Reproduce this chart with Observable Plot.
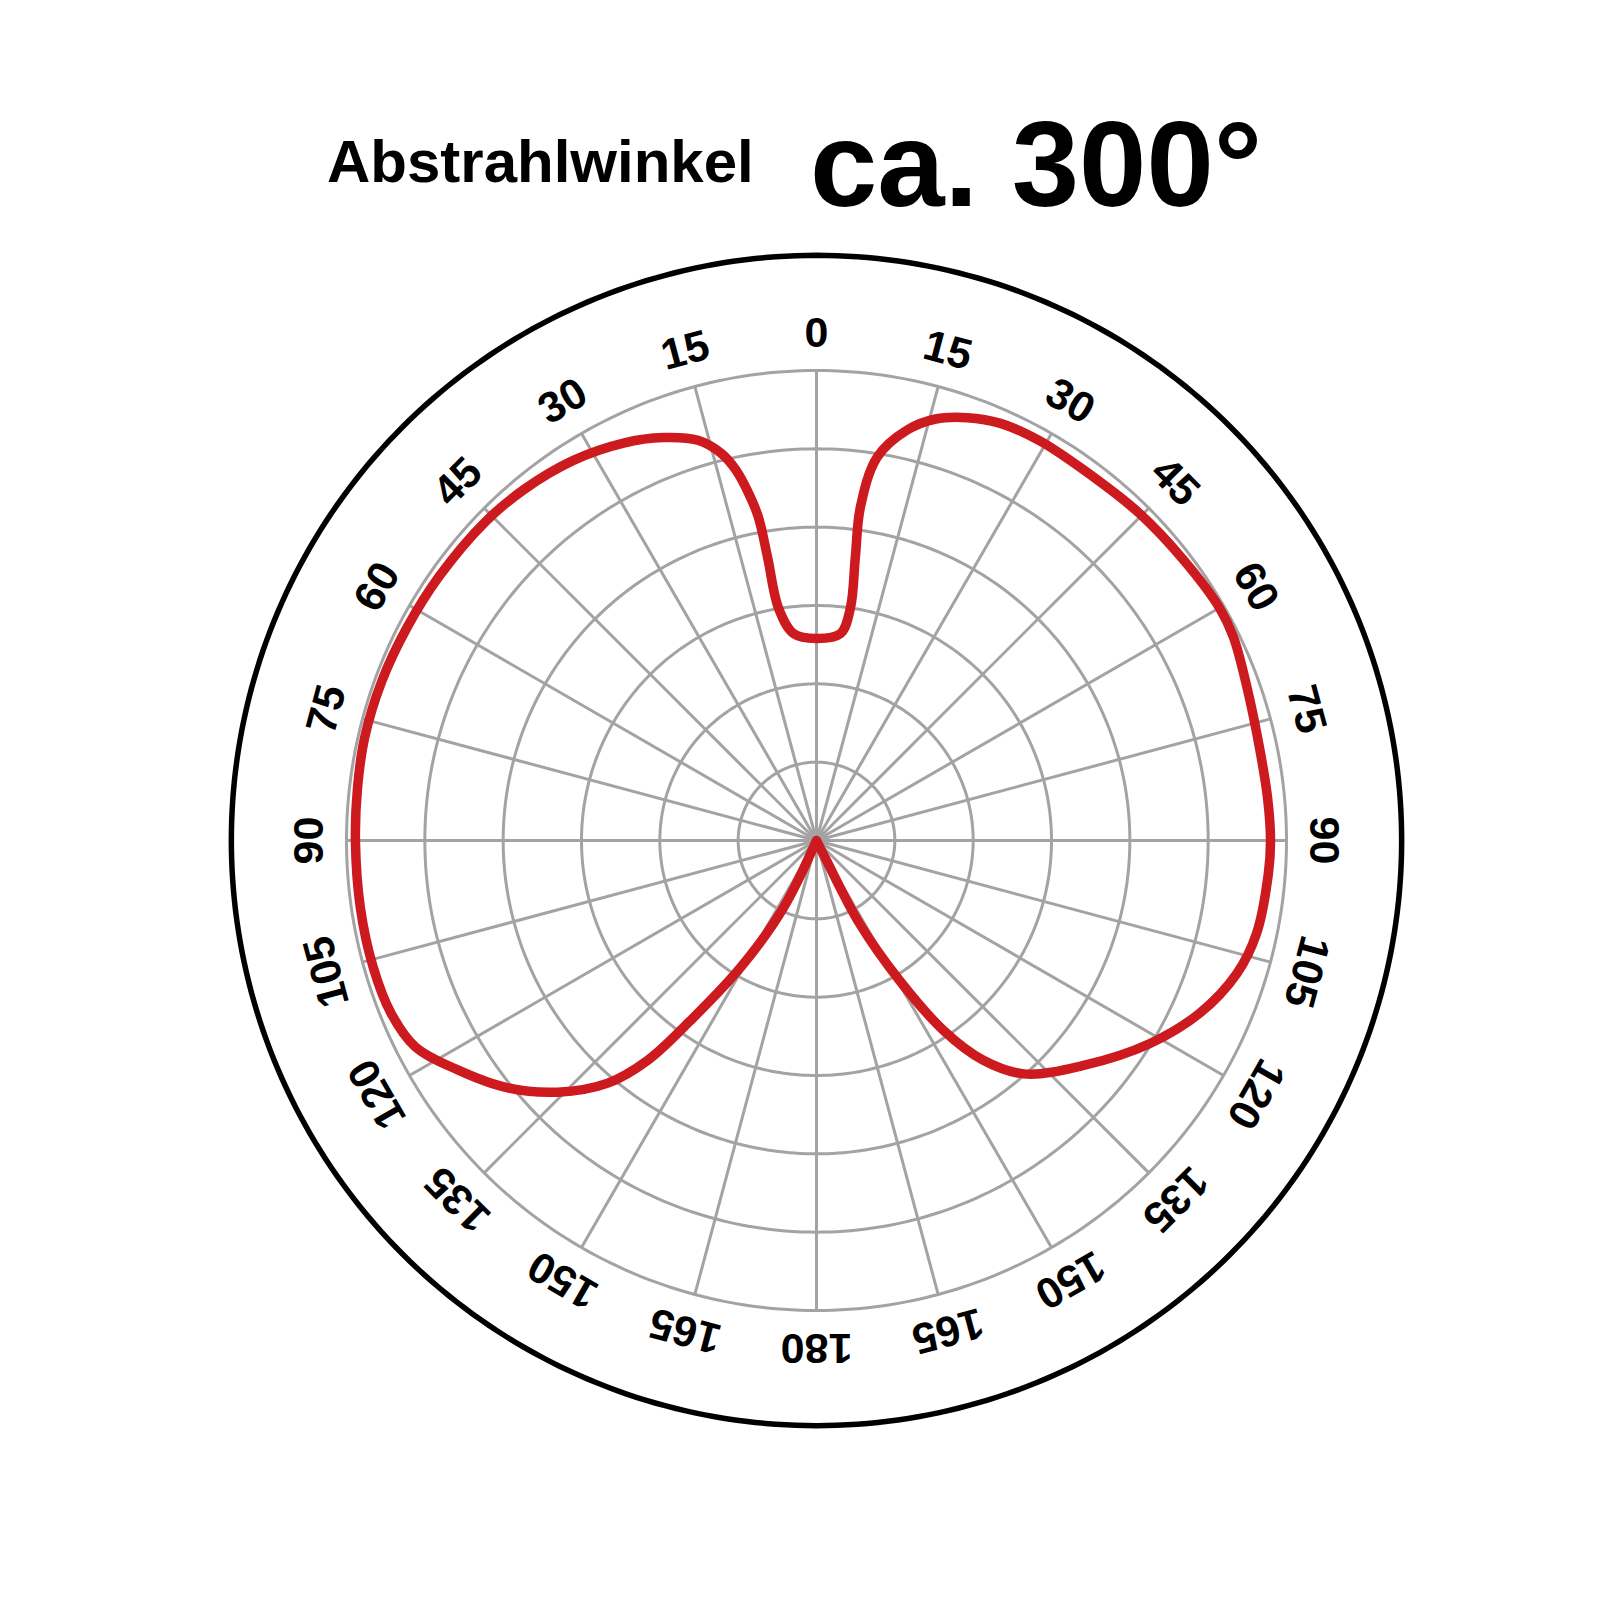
<!DOCTYPE html>
<html>
<head>
<meta charset="utf-8">
<script src="https://cdn.jsdelivr.net/npm/d3@7"></script>
<script src="https://cdn.jsdelivr.net/npm/@observablehq/plot@0.6"></script>
<style>
  html, body { margin: 0; padding: 0; background: #fff; }
  body { width: 1620px; font-family: "Liberation Sans", Arial, sans-serif; }
  #title { position: relative; width: 1620px; height: 220px; }
  #title span { position: absolute; font-weight: bold; line-height: 1; white-space: nowrap; color: #000; }
  #t1 { left: 327px; top: 132px; font-size: 60px; }
  #t2 { left: 810px; top: 104px; font-size: 121px; }
</style>
</head>
<body>
<div id="title"><span id="t1">Abstrahlwinkel</span><span id="t2">ca. 300°</span></div>
<div id="chart"></div>
<script>
// Radiation pattern: angle in degrees (clockwise from top, negative = left side), relative intensity (outer ring = 1)
const curveAngle = [
  -154, -153.8, -149.1, -145, -142.5, -139.3, -134.2, -128.6, -122.6, -117.2,
  -112.1, -106, -98.4, -90, -83.4, -77.2, -69.8, -62.5, -55, -46.1,
  -39.7, -32.6, -25.9, -20.8, -16.5, -13.8, -12.3, -11.2, -10.2, -9.8,
  -9.3, -6.3, 0, 6.6, 8.3, 7.8, 7.5, 9.0, 12.5, 15.8,
  19.6, 23.8, 29.2, 35.8, 44.7, 52.7, 60.0, 64.0, 70.5, 78.1,
  84.6, 90, 94.2, 101.9, 107.6, 114.3, 121.4, 130.1, 138.4, 142.8,
  146.2, 149.3, 152.6, 153.4, 154
];
const curveValue = [
  0, 0.160, 0.315, 0.468, 0.589, 0.681, 0.768, 0.843, 0.906, 0.960,
  0.977, 0.981, 0.981, 0.981, 0.983, 0.986, 0.985, 0.982, 0.980, 0.978,
  0.972, 0.960, 0.940, 0.917, 0.888, 0.848, 0.808, 0.760, 0.700, 0.611,
  0.502, 0.443, 0.430, 0.443, 0.500, 0.609, 0.715, 0.826, 0.895, 0.932,
  0.955, 0.970, 0.974, 0.972, 0.978, 0.983, 0.990, 0.987, 0.972, 0.963,
  0.964, 0.966, 0.964, 0.957, 0.938, 0.894, 0.830, 0.743, 0.664, 0.587,
  0.487, 0.347, 0.198, 0.047, 0
];

// Angle tick labels (every 15°, symmetric numbering)
const tickAngles = [0, 15, 30, 45, 60, 75, 90, 105, 120, 135, 150, 165, 180,
  195, 210, 225, 240, 255, 270, 285, 300, 315, 330, 345];
const tickLabels = ["0", "15", "30", "45", "60", "75", "90", "105", "120", "135", "150", "165", "180",
  "165", "150", "135", "120", "105", "90", "75", "60", "45", "30", "15"];

// Concentric grid rings
const ringValues = [1/6, 2/6, 3/6, 4/6, 5/6, 1];
const labelRadius = 1.079;
const frameRadius = 1.245;

const rad = d => d * Math.PI / 180;
const px = (a, r) => r * Math.sin(rad(a));
const py = (a, r) => r * Math.cos(rad(a));

const curve = curveAngle.map((a, i) => ({x: px(a, curveValue[i]), y: py(a, curveValue[i])}));

const circleSteps = d3.range(0, 361, 1);
const rings = ringValues.flatMap((r, k) => circleSteps.map(a => ({ring: k, x: px(a, r), y: py(a, r)})));
const frame = circleSteps.map(a => ({x: px(a, frameRadius), y: py(a, frameRadius)}));
const spokes = tickAngles.map(a => ({x1: 0, y1: 0, x2: px(a, 1), y2: py(a, 1)}));
const labels = tickAngles.map((a, i) => ({x: px(a, labelRadius), y: py(a, labelRadius), text: tickLabels[i], rotate: a}));

const chart = Plot.plot({
  width: 1620,
  height: 1400,
  marginLeft: 205,
  marginRight: 193,
  marginTop: 9,
  marginBottom: 169,
  x: {domain: [-1.3, 1.3], axis: null},
  y: {domain: [-1.3, 1.3], axis: null},
  style: {fontFamily: "'Liberation Sans', Arial, sans-serif", background: "white"},
  marks: [
    Plot.line(rings, {x: "x", y: "y", z: "ring", stroke: "#a3a3a3", strokeWidth: 3}),
    Plot.link(spokes, {x1: "x1", y1: "y1", x2: "x2", y2: "y2", stroke: "#a3a3a3", strokeWidth: 3}),
    Plot.line(frame, {x: "x", y: "y", stroke: "black", strokeWidth: 5.5}),
    Plot.line(curve, {x: "x", y: "y", stroke: "#cc1a1f", strokeWidth: 9.5, curve: "catmull-rom", strokeLinejoin: "round"}),
    Plot.text(labels, {x: "x", y: "y", text: "text", rotate: "rotate", fontSize: 43, fontWeight: "bold", fill: "black", textAnchor: "middle", lineAnchor: "middle"})
  ]
});
document.getElementById("chart").appendChild(chart);
</script>
</body>
</html>
